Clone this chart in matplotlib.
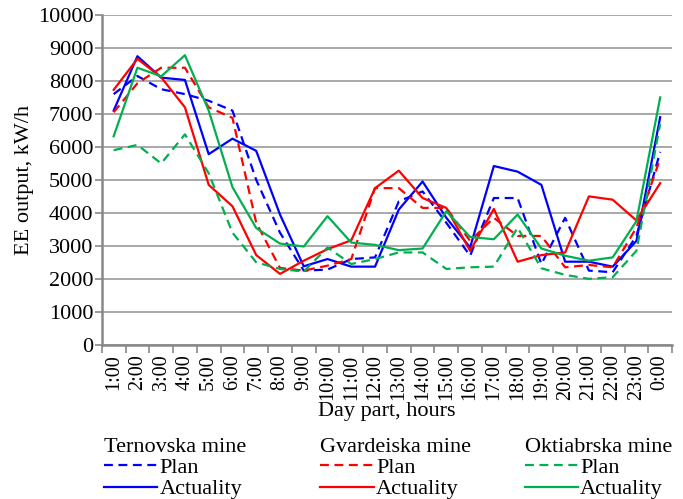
import matplotlib.pyplot as plt
from matplotlib.ticker import FixedLocator

plt.rcParams['font.family'] = ['Liberation Serif', 'DejaVu Serif']

# hours of the day, 1:00 ... 0:00
hours = ["1:00", "2:00", "3:00", "4:00", "5:00", "6:00", "7:00", "8:00", "9:00",
         "10:00", "11:00", "12:00", "13:00", "14:00", "15:00", "16:00", "17:00",
         "18:00", "19:00", "20:00", "21:00", "22:00", "23:00", "0:00"]

# EE output, kW/h
tern_plan = [7600, 8150, 7750, 7600, 7400, 7100, 5000, 3400, 2250, 2280, 2600, 2650,
             4350, 4650, 3700, 2700, 4450, 4450, 2450, 3850, 2250, 2200, 3300, 5850]
tern_fact = [7100, 8750, 8100, 8030, 5780, 6250, 5880, 3950, 2380, 2600, 2370, 2370,
             4100, 4950, 3850, 2950, 5420, 5250, 4850, 2520, 2520, 2370, 3150, 6900]
gvar_plan = [7050, 7930, 8400, 8400, 7200, 6880, 3700, 2330, 2250, 2400, 2600, 4750,
             4750, 4150, 4150, 3150, 3850, 3300, 3300, 2350, 2420, 2350, 3550, 5650]
gvar_fact = [7730, 8670, 8110, 7200, 4850, 4200, 2720, 2150, 2550, 2900, 3170, 4750,
             5280, 4450, 4150, 2850, 4120, 2520, 2720, 2800, 4500, 4400, 3770, 4900]
okt_plan = [5900, 6060, 5500, 6380, 5200, 3400, 2500, 2300, 2220, 2950, 2450, 2600,
            2800, 2800, 2300, 2350, 2370, 3550, 2320, 2120, 2000, 2050, 2850, 6700]
okt_fact = [6320, 8400, 8140, 8780, 7100, 4780, 3540, 3070, 2980, 3900, 3100, 3030,
            2870, 2920, 4050, 3270, 3200, 3950, 2920, 2700, 2550, 2650, 3750, 7500]

blue, red, green = "#0000FF", "#FF0000", "#00B050"
x = list(range(len(hours)))

fig = plt.figure(figsize=(6.83, 4.99), dpi=100)
ax = fig.add_axes([0.149, 0.309, 0.835, 0.661])

lw = 1.6
dash = (4, 2.5)
l1, = ax.plot(x, tern_plan, color=blue, lw=lw, dashes=dash)
l2, = ax.plot(x, tern_fact, color=blue, lw=lw)
l3, = ax.plot(x, gvar_plan, color=red, lw=lw, dashes=dash)
l4, = ax.plot(x, gvar_fact, color=red, lw=lw)
l5, = ax.plot(x, okt_plan, color=green, lw=lw, dashes=dash)
l6, = ax.plot(x, okt_fact, color=green, lw=lw)

ax.set_xlim(-0.5, len(hours) - 0.5)
ax.set_ylim(0, 10000)
ax.set_yticks(range(0, 10001, 1000))
ax.grid(axis="y", color="#999999", lw=1.2)
ax.set_axisbelow(True)

for s in ["top", "right"]:
    ax.spines[s].set_visible(False)
for s in ["left", "bottom"]:
    ax.spines[s].set_color("#888888")
    ax.spines[s].set_linewidth(1.8)

ax.set_xticks(x)
ax.set_xticklabels(hours, rotation=90, fontsize=14.5)
ax.xaxis.set_minor_locator(FixedLocator([i - 0.5 for i in range(len(hours) + 1)]))
ax.tick_params(axis="x", which="major", length=0, pad=7)
ax.tick_params(axis="x", which="minor", length=6, color="#888888", width=1.2)
ax.tick_params(axis="y", length=5, color="#888888", width=1.2, labelsize=16, pad=1)

ax.set_xlabel("Day part, hours", fontsize=16, labelpad=1)
ax.set_ylabel("EE output, kW/h", fontsize=16, labelpad=3)

# three legend blocks, one per mine
groups = [("Ternovska mine", l1, l2, 0.152),
          ("Gvardeiska mine", l3, l4, 0.469),
          ("Oktiabrska mine", l5, l6, 0.768)]
for title, hp, hf, xpos in groups:
    leg = fig.legend([hp, hf], ["Plan", "Actuality"], title=title,
                     loc="upper left", bbox_to_anchor=(xpos, 0.122),
                     frameon=False, alignment="left", fontsize=16,
                     title_fontsize=16, handlelength=2.4, handletextpad=0.1,
                     borderpad=0, borderaxespad=0, labelspacing=0.05)
    leg._legend_box.sep = 0

plt.savefig("out.png", dpi=100)
